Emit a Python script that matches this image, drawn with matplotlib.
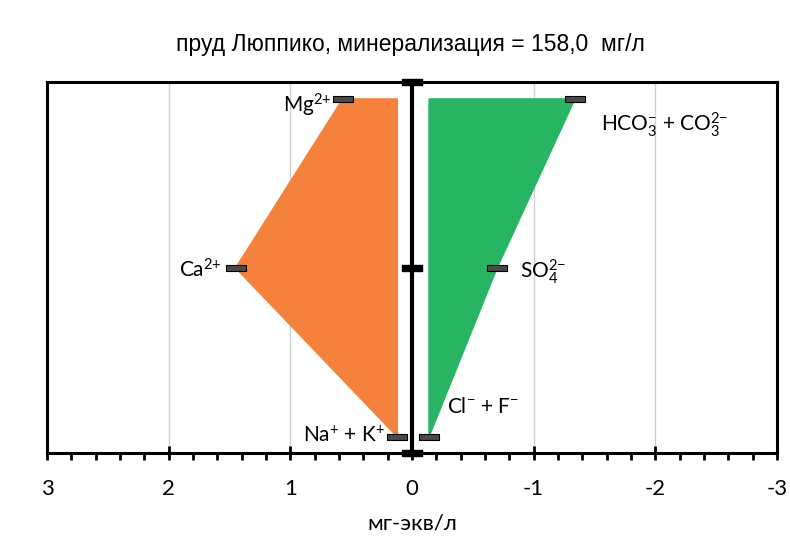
import numpy as np
import matplotlib
matplotlib.use('Agg')
import matplotlib.pyplot as plt
from matplotlib.ticker import MultipleLocator, FuncFormatter

plt.rcParams['font.family'] = ['Lato', 'DejaVu Sans']
plt.rcParams['axes.unicode_minus'] = False
plt.rcParams['mathtext.fontset'] = 'custom'
plt.rcParams['mathtext.rm'] = 'Lato'
plt.rcParams['mathtext.it'] = 'Lato'
plt.rcParams['mathtext.default'] = 'regular'

# levels: 2 = top, 1 = middle, 0 = bottom
levels = [2, 1, 0]
cation_names = ['Mg$^{2{+}}$', 'Ca$^{2{+}}$', 'Na$^{{+}}$ + K$^{{+}}$']
cation_values = [0.57, 1.45, 0.12]          # мг-экв/л
anion_names = ['HCO$_3^{{-}}$ + CO$_3^{2{-}}$', 'SO$_4^{2{-}}$',
               'Cl$^{{-}}$ + F$^{{-}}$']
anion_values = [-1.34, -0.70, -0.14]        # мг-экв/л (plotted negative)
title = 'пруд Люппико, минерализация = 158,0  мг/л'

orange = '#F4823C'
green = '#27B563'
rect = [(-1.5, -0.5), (1.5, -0.5), (1.5, 0.5), (-1.5, 0.5), (-1.5, -0.5)]

fig = plt.figure(figsize=(7.9, 5.46), dpi=100)
ax = fig.add_axes([0.0595, 0.1703, 0.924, 0.6795])
ylim = (-0.095, 2.1)

# polygons (inner edge at the bottom value)
cx = [cation_values[2]] + cation_values
cy = [levels[0]] + levels
ax.fill(cx, cy, color=orange, zorder=2)
axx = [anion_values[2]] + anion_values
ax.fill(axx, cy, color=green, zorder=2)

ax.plot(cation_values, levels, ls='none', marker=rect, ms=15,
        mfc='#4a4a4a', mec='black', mew=0.8, zorder=4)
ax.plot(anion_values, levels, ls='none', marker=rect, ms=15,
        mfc='#4a4a4a', mec='black', mew=0.8, zorder=4)

# central axis line
ax.plot([0, 0], [ylim[0], ylim[1] + 0.02], color='black', lw=3,
        zorder=5, clip_on=False, solid_capstyle='butt')
ax.plot([0, 0, 0], [ylim[0], 1, ylim[1]], ls='none', marker=rect, ms=15,
        mfc='black', mec='black', zorder=6, clip_on=False)

# labels
fs = 15
ax.text(0.66, 1.96, cation_names[0], ha='right', va='center', fontsize=fs)
ax.text(1.56, 0.99, cation_names[1], ha='right', va='center', fontsize=fs)
ax.text(0.22, 0.01, cation_names[2], ha='right', va='center', fontsize=fs)
ax.text(-1.55, 1.85, anion_names[0], ha='left', va='center', fontsize=fs)
ax.text(-0.89, 0.98, anion_names[1], ha='left', va='center', fontsize=fs)
ax.text(-0.29, 0.18, anion_names[2], ha='left', va='center', fontsize=fs)

ax.set_xlim(3, -3)
ax.set_ylim(*ylim)
ax.set_yticks([])
ax.xaxis.set_major_locator(MultipleLocator(1))
ax.xaxis.set_minor_locator(MultipleLocator(0.2))
ax.xaxis.set_major_formatter(FuncFormatter(lambda v, p: '%d' % round(v)))
ax.tick_params(axis='x', which='major', direction='inout', length=10,
               width=2, labelsize=16, pad=14)
ax.tick_params(axis='x', which='minor', direction='out', length=5, width=2)
for v in [2, 1, -1, -2]:
    ax.axvline(v, color='#d0d0d0', lw=1, zorder=1)
for s in ax.spines.values():
    s.set_linewidth(2.2)

ax.set_xlabel('мг-экв/л', fontsize=16, labelpad=10)
fig.text(0.52, 0.918, title, ha='center', va='center', fontsize=16.5,
         family=['Liberation Sans', 'DejaVu Sans'])

fig.savefig('out.png', dpi=100)
